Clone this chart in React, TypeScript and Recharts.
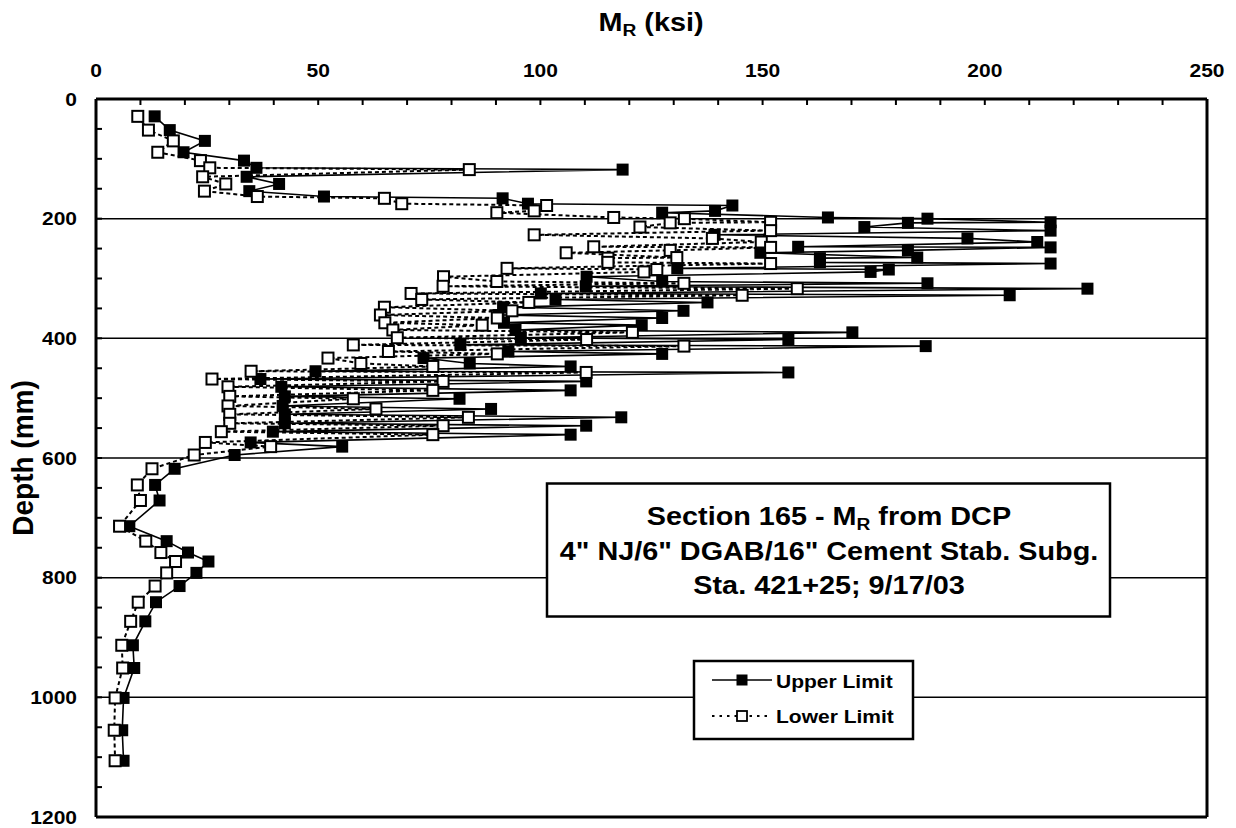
import React from 'react';
import {
  ScatterChart,
  Scatter,
  XAxis,
  YAxis,
  ReferenceLine,
} from 'recharts';

// Depth of each DCP reading (mm)
const depthMm = [
  29, 52, 70, 89, 103, 115, 118, 130, 142, 154,
  163, 166, 175, 178, 187, 190, 198, 200, 206, 207,
  214, 220, 227, 233, 239, 247, 248, 253, 257, 265,
  266, 273, 275, 283, 285, 289, 297, 305, 308, 313,
  317, 325, 328, 335, 340, 348, 354, 361, 366, 374,
  378, 386, 390, 399, 402, 411, 413, 422, 426, 433,
  442, 447, 455, 457, 468, 472, 481, 487, 497, 501,
  513, 518, 527, 532, 542, 546, 556, 561, 574, 581,
  595, 618, 645, 671, 714, 739, 758, 773, 792, 814,
  841, 873, 913, 951, 1001, 1055, 1106,
];

// Upper limit M_R (ksi)
const upperLimitKsi = [
  13.2, 16.6, 24.5, 19.7, 33.3, 36.1, 118.5, 33.9, 41.2, 34.5,
  51.3, 91.5, 97.2, 143.2, 139.3, 127.4, 164.7, 187.1, 214.8, 182.7,
  172.9, 214.8, 139.2, 196.1, 211.8, 158.0, 214.8, 182.7, 149.5, 184.8,
  162.9, 162.9, 214.8, 130.8, 178.4, 174.3, 110.4, 127.4, 187.1, 110.2,
  223.1, 100.1, 205.6, 103.4, 137.6, 91.6, 132.2, 90.6, 127.4, 91.8,
  122.8, 94.4, 170.2, 95.6, 155.8, 82.0, 186.7, 92.8, 127.4, 73.7,
  84.1, 106.8, 49.4, 155.8, 37.0, 110.3, 41.7, 106.8, 42.5, 81.8,
  42.0, 88.9, 42.5, 118.2, 42.5, 110.3, 39.8, 106.8, 34.8, 55.4,
  31.2, 17.7, 13.3, 14.3, 7.5, 15.9, 20.7, 25.3, 22.6, 18.8,
  13.5, 11.1, 8.3, 8.6, 6.2, 5.9, 6.2,
];

// Lower limit M_R (ksi)
const lowerLimitKsi = [
  9.4, 11.8, 17.4, 13.9, 23.5, 25.6, 84.0, 24.0, 29.2, 24.4,
  36.3, 64.9, 68.8, 101.4, 98.6, 90.2, 116.5, 132.4, 151.8, 129.2,
  122.4, 151.8, 98.6, 138.7, 149.7, 112.0, 151.8, 129.2, 105.8, 130.7,
  115.2, 115.2, 151.8, 92.5, 126.2, 123.3, 78.2, 90.2, 132.3, 78.1,
  157.8, 70.9, 145.4, 73.3, 97.4, 64.9, 93.6, 64.0, 90.3, 65.0,
  86.9, 66.8, 120.7, 67.8, 110.4, 57.9, 132.3, 65.8, 90.3, 52.2,
  59.6, 75.8, 34.9, 110.3, 26.1, 78.1, 29.7, 75.8, 30.1, 57.9,
  29.7, 63.0, 30.1, 83.8, 30.1, 78.1, 28.2, 75.8, 24.6, 39.3,
  22.1, 12.6, 9.3, 10.0, 5.3, 11.2, 14.6, 17.9, 15.9, 13.3,
  9.5, 7.8, 5.8, 6.0, 4.3, 4.1, 4.3,
];

const xTickValues = [
  0, 10, 20, 30, 40, 50, 60, 70, 80, 90, 100, 110, 120, 130, 140, 150,
  160, 170, 180, 190, 200, 210, 220, 230, 240, 250,
];
const xLabelValues = [0, 50, 100, 150, 200, 250];
const yTickValues = [
  0, 50, 100, 150, 200, 250, 300, 350, 400, 450, 500, 550, 600, 650, 700,
  750, 800, 850, 900, 950, 1000, 1050, 1100, 1150, 1200,
];
const yLabelValues = [0, 200, 400, 600, 800, 1000, 1200];
const gridDepths = [200, 400, 600, 800, 1000];
const frameX = [0, 250];
const frameY = [0, 1200];

const upperData = depthMm.map((d, i) => ({ depth: d, mr: upperLimitKsi[i] }));
const lowerData = depthMm.map((d, i) => ({ depth: d, mr: lowerLimitKsi[i] }));

const FONT = '"Liberation Sans", Arial, Helvetica, sans-serif';
const STRETCH = 1.13;

const XTick = (props: any) => {
  const { x, y, payload } = props;
  const v = payload.value;
  return (
    <g>
      <line x1={x} y1={y} x2={x} y2={y + 6} stroke="#000" strokeWidth={2} />
      {xLabelValues.includes(v) && (
        <text
          transform={`translate(${x},${y - 22}) scale(${STRETCH},1)`}
          textAnchor="middle"
          fontFamily={FONT}
          fontWeight="bold"
          fontSize={18.6}
          fill="#000"
        >
          {v}
        </text>
      )}
    </g>
  );
};

const YTick = (props: any) => {
  const { x, y, payload } = props;
  const v = payload.value;
  return (
    <g>
      <line x1={x} y1={y} x2={x + 6} y2={y} stroke="#000" strokeWidth={2} />
      {yLabelValues.includes(v) && (
        <text
          transform={`translate(${x - 19},${y + 6.7}) scale(${STRETCH},1)`}
          textAnchor="end"
          fontFamily={FONT}
          fontWeight="bold"
          fontSize={18.6}
          fill="#000"
        >
          {v}
        </text>
      )}
    </g>
  );
};

const FilledSquare = (props: any) => {
  const { cx, cy } = props;
  if (cx == null || cy == null) return <g />;
  return <rect x={cx - 6} y={cy - 6} width={12} height={12} fill="#000" />;
};

const OpenSquare = (props: any) => {
  const { cx, cy } = props;
  if (cx == null || cy == null) return <g />;
  return (
    <rect
      x={cx - 5.5}
      y={cy - 5.5}
      width={11}
      height={11}
      fill="#fff"
      stroke="#000"
      strokeWidth={2}
    />
  );
};

export default function App() {
  return (
    <div
      style={{
        position: 'absolute',
        left: 0,
        top: 0,
        width: 1236,
        height: 828,
        background: '#fff',
        overflow: 'hidden',
      }}
    >
      <ScatterChart
        width={1236}
        height={828}
        margin={{ top: 49, right: 29, bottom: 11, left: 36 }}
      >
        <XAxis
          type="number"
          dataKey="mr"
          orientation="top"
          domain={[0, 250]}
          ticks={xTickValues}
          interval={0}
          height={50}
          tickSize={0}
          tickMargin={0}
          axisLine={false}
          tickLine={false}
          tick={(p: any) => <XTick {...p} />}
          allowDataOverflow
        />
        <YAxis
          type="number"
          dataKey="depth"
          domain={[0, 1200]}
          reversed
          ticks={yTickValues}
          interval={0}
          width={60}
          tickSize={0}
          tickMargin={0}
          axisLine={false}
          tickLine={false}
          tick={(p: any) => <YTick {...p} />}
          allowDataOverflow
        />
        {gridDepths.map((d) => (
          <ReferenceLine key={d} y={d} stroke="#000" strokeWidth={1.5} ifOverflow="visible" />
        ))}
        <Scatter
          name="Upper Limit"
          data={upperData}
          line={{ stroke: '#000', strokeWidth: 1.6 }}
          lineType="joint"
          shape={(p: any) => <FilledSquare {...p} />}
          isAnimationActive={false}
        />
        <Scatter
          name="Lower Limit"
          data={lowerData}
          line={{ stroke: '#000', strokeWidth: 2, strokeDasharray: '4 3' }}
          lineType="joint"
          shape={(p: any) => <OpenSquare {...p} />}
          isAnimationActive={false}
        />
        {frameX.map((v) => (
          <ReferenceLine
            key={`fx${v}`}
            x={v}
            stroke="#000"
            strokeWidth={3}
            strokeOpacity={1}
            ifOverflow="visible"
          />
        ))}
        {frameY.map((v) => (
          <ReferenceLine
            key={`fy${v}`}
            y={v}
            stroke="#000"
            strokeWidth={3}
            strokeOpacity={1}
            ifOverflow="visible"
          />
        ))}
      </ScatterChart>

      <svg
        width={1236}
        height={828}
        style={{ position: 'absolute', left: 0, top: 0, pointerEvents: 'none' }}
      >
        {/* X axis title */}
        <text
          transform={`translate(651,31) scale(${STRETCH},1)`}
          textAnchor="middle"
          fontFamily={FONT}
          fontWeight="bold"
          fontSize={25.5}
          fill="#000"
        >
          <tspan>M</tspan>
          <tspan fontSize={17} dy={5}>R</tspan>
          <tspan dy={-5}> (ksi)</tspan>
        </text>

        {/* Y axis title */}
        <text
          transform="translate(33,458) scale(1.08,1) rotate(-90)"
          textAnchor="middle"
          fontFamily={FONT}
          fontWeight="bold"
          fontSize={28}
          fill="#000"
        >
          Depth (mm)
        </text>

        {/* Annotation box */}
        <rect
          x={547}
          y={483.5}
          width={563}
          height={133}
          fill="#fff"
          stroke="#000"
          strokeWidth={2.5}
        />
        <g fontFamily={FONT} fontWeight="bold" fontSize={25.5} fill="#000">
          <text transform={`translate(829,525) scale(${STRETCH},1)`} textAnchor="middle">
            <tspan>Section 165 - M</tspan>
            <tspan fontSize={17} dy={5}>R</tspan>
            <tspan dy={-5}> from DCP</tspan>
          </text>
          <text transform={`translate(829,559.5) scale(${STRETCH},1)`} textAnchor="middle">
            4" NJ/6" DGAB/16" Cement Stab. Subg.
          </text>
          <text transform={`translate(829,594) scale(${STRETCH},1)`} textAnchor="middle">
            Sta. 421+25; 9/17/03
          </text>
        </g>

        {/* Legend */}
        <rect
          x={694}
          y={661}
          width={219}
          height={78}
          fill="#fff"
          stroke="#000"
          strokeWidth={2.5}
        />
        <line x1={712} y1={680} x2={772} y2={680} stroke="#000" strokeWidth={1.6} />
        <rect x={736.5} y={674.5} width={11} height={11} fill="#000" />
        <line
          x1={712}
          y1={716}
          x2={772}
          y2={716}
          stroke="#000"
          strokeWidth={2}
          strokeDasharray="2.5 5"
        />
        <rect
          x={737}
          y={711}
          width={10}
          height={10}
          fill="#fff"
          stroke="#000"
          strokeWidth={1.8}
        />
        <g fontFamily={FONT} fontWeight="bold" fontSize={18.6} fill="#000">
          <text transform={`translate(776,688) scale(${STRETCH},1)`}>Upper Limit</text>
          <text transform={`translate(776,723) scale(${STRETCH},1)`}>Lower Limit</text>
        </g>
      </svg>
    </div>
  );
}
